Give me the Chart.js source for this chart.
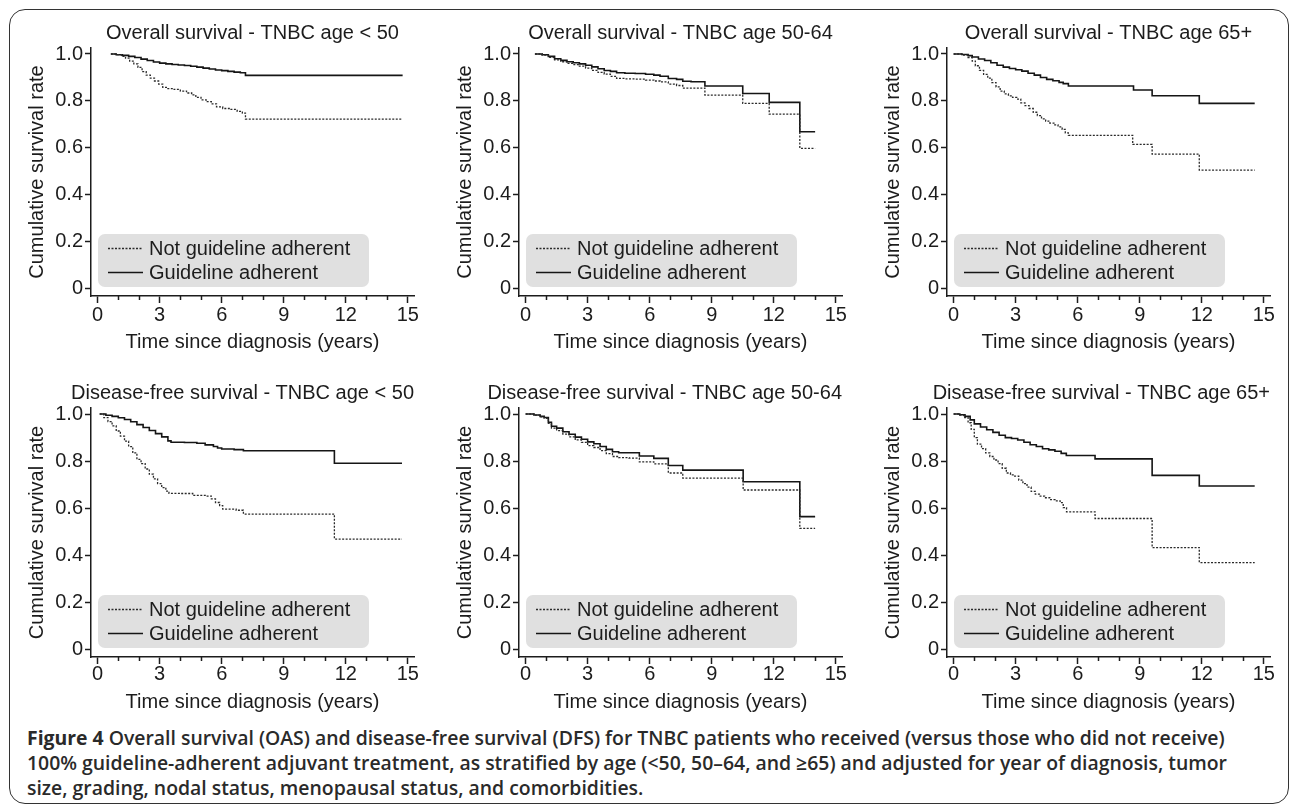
<!DOCTYPE html>
<html><head><meta charset="utf-8">
<script src="https://cdn.jsdelivr.net/npm/chart.js@4.4.1/dist/chart.umd.min.js"></script>
<style>
html,body{margin:0;padding:0;background:#fff;}
body{width:1290px;height:809px;position:relative;overflow:hidden;}
#frame{position:absolute;left:9px;top:9px;width:1278px;height:793px;border:1.5px solid #333;border-radius:16px;}
canvas{position:absolute;}
#caption{position:absolute;left:27px;top:725px;font-family:"Open Sans",sans-serif;font-weight:600;font-size:18px;line-height:25px;color:#2a2a2a;white-space:nowrap;}
#caption b{font-weight:700;}
</style></head><body>
<div id="frame"></div>
<canvas id="c0"></canvas><canvas id="c1"></canvas><canvas id="c2"></canvas>
<canvas id="c3"></canvas><canvas id="c4"></canvas><canvas id="c5"></canvas>
<div id="caption"><span class="ln"><b>Figure 4</b> Overall survival (OAS) and disease-free survival (DFS) for TNBC patients who received (versus those who did not receive)</span><br><span class="ln">100% guideline-adherent adjuvant treatment, as stratified by age (&lt;50, 50–64, and ≥65) and adjusted for year of diagnosis, tumor</span><br><span class="ln">size, grading, nodal status, menopausal status, and comorbidities.</span></div>
<script>
// ---------- DATA ----------
const panelTitles = ['Overall survival - TNBC age < 50','Overall survival - TNBC age 50-64','Overall survival - TNBC age 65+',
  'Disease-free survival - TNBC age < 50','Disease-free survival - TNBC age 50-64','Disease-free survival - TNBC age 65+'];
const seriesLabels = ['Not guideline adherent','Guideline adherent'];
const xAxisTitle = 'Time since diagnosis (years)';
const yAxisTitle = 'Cumulative survival rate';
const xTicks = [0,3,6,9,12,15];
const xTickLabels = ['0','3','6','9','12','15'];
const xMinorTicks = [1,2,4,5,7,8,10,11,13,14];
const yTicks = [0,0.2,0.4,0.6,0.8,1.0];
const yTickLabels = ['0','0.2','0.4','0.6','0.8','1.0'];

// Overall survival, age < 50
const osLt50NotT = [0.64,0.95,1.15,1.35,1.55,1.75,1.95,2.15,2.35,2.55,2.75,2.95,3.15,3.4,3.7,4.0,4.3,4.55,4.75,5.0,5.25,5.5,5.75,6.05,6.4,6.75,7.0,7.15,14.75];
const osLt50NotS = [1.0,0.997,0.99,0.982,0.97,0.958,0.943,0.925,0.91,0.897,0.885,0.872,0.858,0.853,0.849,0.842,0.834,0.826,0.815,0.805,0.797,0.788,0.775,0.768,0.764,0.756,0.748,0.723,0.723];
const osLt50AdhT = [0.64,0.9,1.2,1.5,1.8,2.1,2.4,2.7,3.0,3.3,3.6,3.9,4.2,4.5,4.8,5.1,5.4,5.7,6.0,6.3,6.6,6.9,7.15,14.75];
const osLt50AdhS = [1.0,0.997,0.994,0.99,0.985,0.978,0.972,0.966,0.961,0.958,0.955,0.953,0.951,0.948,0.944,0.94,0.936,0.932,0.929,0.926,0.923,0.92,0.909,0.909];
// Overall survival, age 50-64
const os5064NotT = [0.45,0.8,1.1,1.4,1.7,2.0,2.3,2.6,2.9,3.2,3.5,3.8,4.1,4.4,4.8,5.3,5.8,6.2,6.5,6.9,7.3,7.6,8.0,8.67,10.5,11.78,13.26,14.0];
const os5064NotS = [1.0,0.995,0.986,0.975,0.967,0.96,0.955,0.948,0.94,0.93,0.922,0.914,0.905,0.896,0.894,0.893,0.889,0.885,0.881,0.872,0.866,0.855,0.855,0.825,0.79,0.744,0.598,0.598];
const os5064AdhT = [0.45,0.8,1.1,1.4,1.7,2.0,2.3,2.6,2.9,3.2,3.5,3.8,4.1,4.4,4.8,5.3,5.8,6.2,6.5,6.9,7.3,7.6,8.0,8.67,10.5,11.78,13.26,14.0];
const os5064AdhS = [1.0,0.997,0.99,0.98,0.973,0.967,0.963,0.958,0.952,0.945,0.937,0.93,0.926,0.92,0.918,0.917,0.914,0.91,0.905,0.896,0.892,0.884,0.882,0.864,0.832,0.794,0.669,0.669];
// Overall survival, age 65+
const os65NotT = [0,0.4,0.7,0.9,1.05,1.25,1.45,1.65,1.85,2.05,2.25,2.45,2.65,2.85,3.05,3.25,3.45,3.65,3.85,4.05,4.25,4.45,4.65,4.85,5.05,5.25,5.4,5.55,8.66,9.6,11.88,14.56];
const os65NotS = [1.0,0.995,0.985,0.97,0.95,0.93,0.913,0.897,0.878,0.86,0.842,0.83,0.822,0.815,0.808,0.792,0.78,0.768,0.752,0.738,0.724,0.714,0.706,0.698,0.69,0.679,0.664,0.654,0.615,0.574,0.506,0.506];
const os65AdhT = [0,0.4,0.7,0.9,1.2,1.5,1.8,2.1,2.4,2.7,3.0,3.3,3.6,3.9,4.2,4.5,4.8,5.1,5.3,5.55,8.7,9.6,11.88,14.56];
const os65AdhS = [1.0,0.998,0.993,0.987,0.979,0.972,0.963,0.952,0.944,0.938,0.933,0.927,0.918,0.91,0.9,0.892,0.886,0.879,0.874,0.864,0.847,0.822,0.79,0.79];
// Disease-free survival, age < 50
const dfsLt50NotT = [0.1,0.3,0.5,0.7,0.9,1.1,1.3,1.5,1.7,1.9,2.1,2.3,2.5,2.7,2.9,3.1,3.3,3.45,4.0,4.6,5.2,5.5,5.7,5.9,6.05,6.7,7.05,11.45,14.72];
const dfsLt50NotS = [1.0,0.985,0.968,0.95,0.928,0.906,0.885,0.862,0.835,0.808,0.79,0.767,0.745,0.725,0.705,0.688,0.673,0.664,0.663,0.655,0.652,0.64,0.625,0.612,0.597,0.592,0.576,0.47,0.47];
const dfsLt50AdhT = [0.1,0.4,0.7,1.0,1.3,1.6,1.9,2.2,2.5,2.8,3.1,3.4,3.55,4.2,4.8,5.2,5.6,5.8,6.0,6.6,7.05,11.45,14.72];
const dfsLt50AdhS = [1.0,0.995,0.99,0.984,0.977,0.967,0.955,0.943,0.93,0.917,0.903,0.886,0.88,0.879,0.876,0.869,0.862,0.856,0.852,0.849,0.844,0.791,0.791];
// Disease-free survival, age 50-64
const dfs5064NotT = [0,0.4,0.7,0.9,1.1,1.25,1.5,1.8,2.1,2.4,2.7,3.0,3.3,3.6,3.9,4.2,4.5,5.0,5.5,6.2,6.9,7.6,10.52,13.26,14.0];
const dfs5064NotS = [1.0,0.995,0.988,0.982,0.96,0.94,0.93,0.915,0.903,0.89,0.88,0.866,0.858,0.845,0.832,0.82,0.815,0.813,0.797,0.789,0.75,0.728,0.678,0.515,0.515];
const dfs5064AdhT = [0,0.4,0.7,0.9,1.1,1.25,1.5,1.8,2.1,2.4,2.7,3.0,3.3,3.6,3.9,4.2,4.5,5.0,5.5,6.2,6.9,7.6,10.52,13.26,14.0];
const dfs5064AdhS = [1.0,0.996,0.99,0.985,0.965,0.948,0.94,0.925,0.914,0.902,0.893,0.882,0.874,0.862,0.85,0.84,0.836,0.836,0.822,0.812,0.782,0.762,0.713,0.565,0.565];
// Disease-free survival, age 65+
const dfs65NotT = [0,0.3,0.5,0.7,0.85,1.0,1.15,1.35,1.55,1.75,1.95,2.15,2.35,2.55,2.75,2.95,3.15,3.35,3.55,3.75,3.95,4.15,4.4,4.65,4.9,5.15,5.3,5.46,6.84,9.6,11.88,14.56];
const dfs65NotS = [1.0,0.995,0.985,0.963,0.935,0.9,0.872,0.853,0.835,0.82,0.805,0.79,0.77,0.75,0.742,0.737,0.72,0.705,0.69,0.672,0.66,0.652,0.645,0.637,0.632,0.624,0.603,0.585,0.557,0.434,0.37,0.37];
const dfs65AdhT = [0,0.3,0.55,0.8,1.0,1.3,1.6,1.9,2.2,2.5,2.8,3.1,3.4,3.7,4.0,4.3,4.6,4.9,5.2,5.45,6.84,9.6,11.88,14.56];
const dfs65AdhS = [1.0,0.997,0.99,0.975,0.958,0.945,0.933,0.922,0.91,0.9,0.896,0.89,0.88,0.87,0.862,0.853,0.848,0.842,0.833,0.824,0.81,0.74,0.695,0.695];

const panelSeries = [
  [[osLt50NotT,osLt50NotS],[osLt50AdhT,osLt50AdhS]],
  [[os5064NotT,os5064NotS],[os5064AdhT,os5064AdhS]],
  [[os65NotT,os65NotS],[os65AdhT,os65AdhS]],
  [[dfsLt50NotT,dfsLt50NotS],[dfsLt50AdhT,dfsLt50AdhS]],
  [[dfs5064NotT,dfs5064NotS],[dfs5064AdhT,dfs5064AdhS]],
  [[dfs65NotT,dfs65NotS],[dfs65AdhT,dfs65AdhS]]
];

// ---------- LAYOUT / STYLE ----------
const FONT = '"Liberation Sans", Arial, sans-serif';
const INK = '#1c1c1c';
const rows = [
  {top:19, chartTop:48, chartBottom:296, bottom:354, tickPad:0},
  {top:379, chartTop:408, chartBottom:657, bottom:714, tickPad:-2}
];
const cols = [{chartLeft:91, chartRight:414},{chartLeft:519, chartRight:842},{chartLeft:947, chartRight:1270}];
const Y_SCALE_W = 66, PAD_R = 10;

Chart.defaults.font.family = FONT;
Chart.defaults.color = INK;

const decor = {
  id:'kmDecor',
  afterDraw(chart){
    const ctx = chart.ctx, xs = chart.scales.x, ca = chart.chartArea;
    ctx.save();
    // minor ticks
    ctx.strokeStyle = INK; ctx.lineWidth = 1.5;
    xMinorTicks.forEach(v=>{
      const px = Math.round(xs.getPixelForValue(v))+0.5;
      ctx.beginPath(); ctx.moveTo(px, ca.bottom); ctx.lineTo(px, ca.bottom+4); ctx.stroke();
    });
    // legend
    const bx = ca.left+7, by = ca.bottom-62, bw = 271, bh = 53, r = 7;
    ctx.fillStyle = '#e0e0e0';
    ctx.beginPath();
    ctx.roundRect ? ctx.roundRect(bx,by,bw,bh,r) : ctx.rect(bx,by,bw,bh);
    ctx.fill();
    ctx.font = '20px ' + FONT;
    ctx.textBaseline = 'middle'; ctx.textAlign = 'left';
    chart.data.datasets.forEach((ds,i)=>{
      const yy = ca.bottom - 48 + i*24;
      ctx.strokeStyle = ds.borderColor; ctx.lineWidth = ds.borderWidth;
      ctx.setLineDash(ds.borderDash || []);
      ctx.beginPath(); ctx.moveTo(ca.left+17, yy+0.5); ctx.lineTo(ca.left+52, yy+0.5); ctx.stroke();
      ctx.setLineDash([]);
      ctx.fillStyle = INK;
      ctx.fillText(ds.label, ca.left+58, yy+1);
    });
    ctx.restore();
  }
};

panelSeries.forEach((series, p)=>{
  const row = rows[Math.floor(p/3)], col = cols[p%3];
  const cv = document.getElementById('c'+p);
  const left = col.chartLeft - Y_SCALE_W;
  const width = col.chartRight + PAD_R - left;
  const height = row.bottom - row.top;
  cv.width = width; cv.height = height;
  cv.style.left = left+'px'; cv.style.top = row.top+'px';
  cv.style.width = width+'px'; cv.style.height = height+'px';
  const isDFS = p >= 3;
  const titlePadBottom = row.chartTop - row.top - 2 - 24;
  const datasets = series.map((s,i)=>({
    label: seriesLabels[i],
    data: s[0].map((t,k)=>({x:t, y:s[1][k]})),
    stepped: 'before',
    borderColor: i===0 ? '#2a2a2a' : '#151515',
    borderWidth: i===0 ? 1.3 : 1.6,
    borderDash: i===0 ? [2,1.5] : [],
    pointRadius: 0,
    fill: false
  }));
  new Chart(cv, {
    type:'line',
    data:{datasets},
    options:{
      responsive:false, animation:false, devicePixelRatio:1,
      layout:{padding:{left:0, right:PAD_R, top:0, bottom:0}},
      plugins:{
        legend:{display:false},
        tooltip:{enabled:false},
        title:{display:true, text:panelTitles[p], color:INK, font:{size:20, weight:'normal', family:FONT},
          padding:{top:2, bottom:titlePadBottom}, fullSize:isDFS, align:isDFS?'end':'center'}
      },
      scales:{
        x:{type:'linear', min:-0.32, max:15.3,
          afterBuildTicks(s){ s.ticks = xTicks.map(v=>({value:v})); },
          afterFit(s){ s.height = row.bottom - row.chartBottom; },
          ticks:{callback:(v)=>xTickLabels[xTicks.indexOf(v)], font:{size:20}, color:INK, padding:row.tickPad, maxRotation:0, autoSkip:false},
          grid:{display:true, drawOnChartArea:false, drawTicks:true, tickLength:7, tickWidth:1.5, tickColor:INK},
          border:{display:true, color:INK, width:1.5},
          title:{display:true, text:xAxisTitle, font:{size:20}, color:INK, padding:{top:0,bottom:0}}
        },
        y:{type:'linear', min:-0.03, max:1.0255,
          afterBuildTicks(s){ s.ticks = yTicks.map(v=>({value:v})); },
          afterFit(s){ s.width = Y_SCALE_W; },
          ticks:{callback:(v)=>yTickLabels[yTicks.indexOf(v)], font:{size:20}, color:INK, padding:2, autoSkip:false},
          grid:{display:true, drawOnChartArea:false, drawTicks:true, tickLength:6, tickWidth:1.5, tickColor:INK},
          border:{display:true, color:INK, width:1.5},
          title:{display:true, text:yAxisTitle, font:{size:20}, color:INK, padding:{top:0,bottom:0}}
        }
      }
    },
    plugins:[decor]
  });
});

// caption sizing: fit first line to reference width
function fitCaption(){
  const cap = document.getElementById('caption');
  const ln = cap.querySelector('.ln');
  const w = ln.getBoundingClientRect().width;
  const fs = parseFloat(getComputedStyle(cap).fontSize);
  if (w > 0) cap.style.fontSize = (fs * 1198 / w).toFixed(2) + 'px';
}
fitCaption();
</script>
</body></html>
